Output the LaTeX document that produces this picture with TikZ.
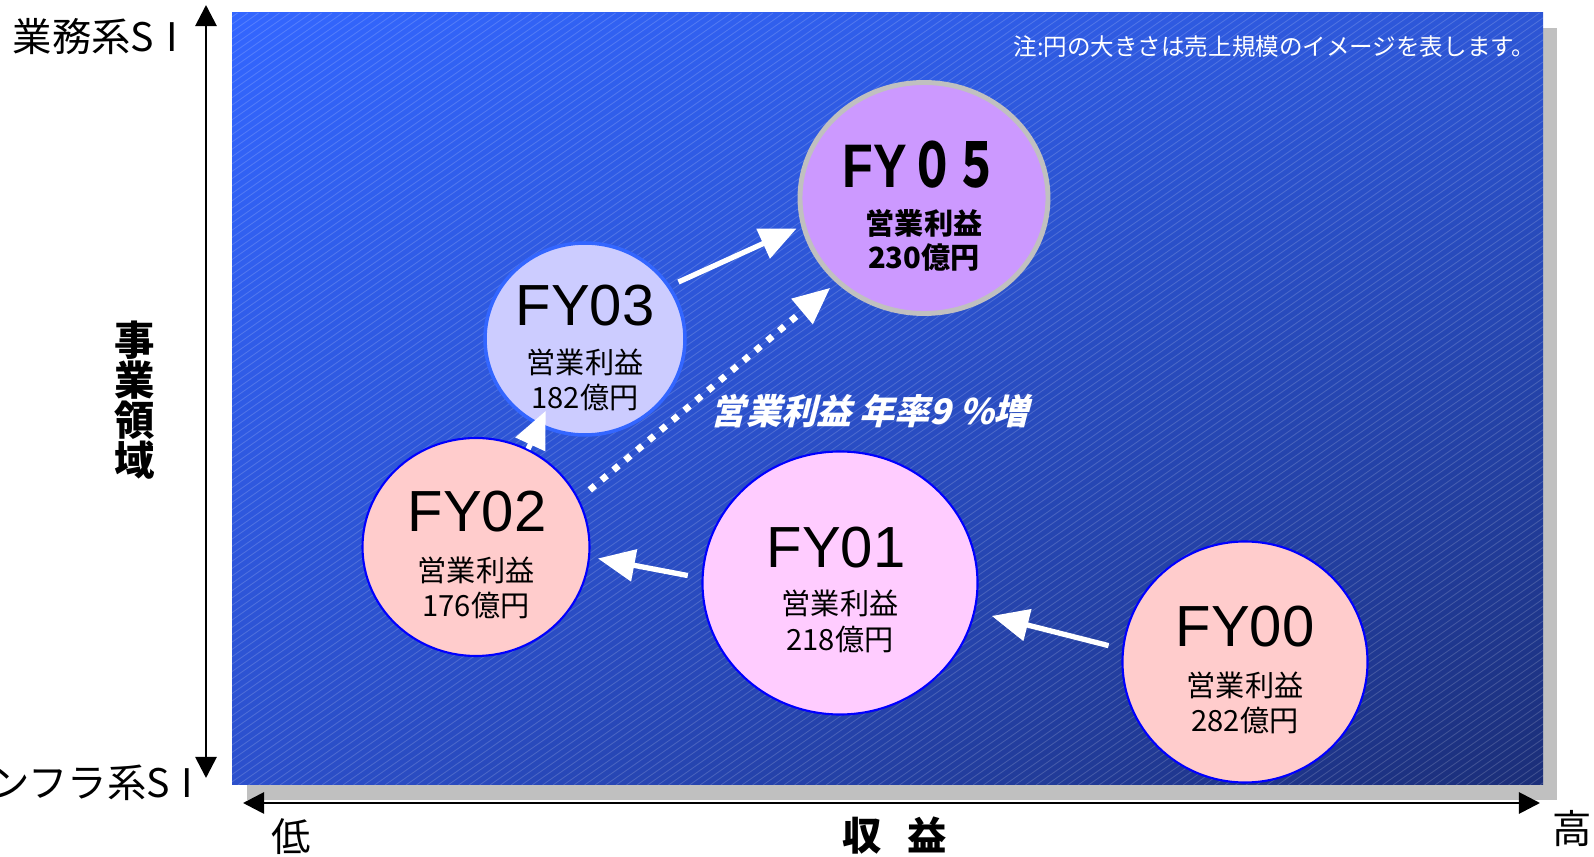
\documentclass[tikz,border=0pt]{standalone}
\usepackage{fontspec}
\usepackage{graphicx}
\setmainfont{Liberation Sans}
\newfontfamily\jp{Noto Sans CJK JP}
\newfontfamily\jpslant{Noto Sans CJK JP}[FakeSlant=0.25]
\usetikzlibrary{arrows.meta,shapes.geometric,shadings}

\definecolor{bgUL}{RGB}{51,102,255}
\definecolor{bgUR}{RGB}{45,86,214}
\definecolor{bgLL}{RGB}{44,80,204}
\definecolor{bgLR}{RGB}{27,46,120}
\definecolor{shadowgray}{RGB}{192,192,192}
\definecolor{pinkfill}{RGB}{255,204,204}
\definecolor{lilacfill}{RGB}{255,204,255}
\definecolor{periwinkle}{RGB}{204,204,255}
\definecolor{violetfill}{RGB}{204,153,255}
\definecolor{lightedge}{RGB}{51,102,255}

\tikzset{
  yearcirc/.style={ellipse, inner sep=0pt, draw=blue, line width=0.6pt},
  fyname/.style={font=\fontsize{16.5}{18}\selectfont},
  fyinfo/.style={font=\jp\fontsize{8.3}{10}\selectfont},
  axislabel/.style={font=\jp\fontsize{11.2}{13}\selectfont, inner sep=0pt},
}

\begin{document}
\begin{tikzpicture}[x=0.1mm, y=-0.1mm]
  \useasboundingbox (0,0) rectangle (1594,857);

  % chart area
  \fill[shadowgray] (247,28) rectangle (1557,800);
  \shade[upper left=bgUL, upper right=bgUR, lower left=bgLL, lower right=bgLR]
    (232,13) rectangle (1543,785);
  \begin{scope}
    \clip (232,13) rectangle (1543,785);
    \foreach \k in {0,...,232}
      \draw[white, draw opacity=0.16, line width=0.25pt] ({-875+10.5*\k},785) -- ++(1102,-772);
  \end{scope}

  % axes
  \coordinate (ytop) at (206,5);
  \coordinate (ybot) at (206,778);
  \coordinate (xlow) at (243,803);
  \coordinate (xhigh) at (1540,803);
  \draw[line width=0.8pt, {Triangle[length=6pt,width=6pt]}-{Triangle[length=6pt,width=6pt]}] (ybot) -- (ytop);
  \draw[line width=0.8pt, {Triangle[length=6pt,width=6pt]}-{Triangle[length=6pt,width=6pt]}] (xlow) -- (xhigh);

  \node[axislabel, anchor=west] (bizsi) at (12,37) {業務系S\hspace{0.3em}I};
  \node[axislabel, anchor=east] (infrasi) at (194,783) {インフラ系S\hspace{0.3em}I};
  \node[axislabel, font=\jp\bfseries\fontsize{11.5}{11.4}\selectfont, align=center] (domain) at (135,400) {事\\業\\領\\域};
  \node[axislabel] (low) at (291,837) {低};
  \node[axislabel] (high) at (1572,829) {高};
  \node[axislabel, font=\jp\bfseries\fontsize{11.2}{13}\selectfont] (revenue) at (895,836) {収\hspace{0.65em}益};

  \node[anchor=east, inner sep=0pt, text=white, font=\jp\fontsize{6.7}{8}\selectfont] (note) at (1536,47)
    {注:円の大きさは売上規模のイメージを表します。};

  % year circles
  \node[yearcirc, fill=pinkfill, minimum width=24.5mm, minimum height=24.1mm] (fy00) at (1245,662) {};
  \node[yearcirc, fill=lilacfill, minimum width=27.5mm, minimum height=26.3mm] (fy01) at (840,583) {};
  \node[yearcirc, fill=pinkfill, minimum width=22.7mm, minimum height=21.8mm] (fy02) at (476,547) {};
  \node[yearcirc, fill=periwinkle, draw=lightedge, line width=1pt, minimum width=20mm, minimum height=19.2mm] (fy03) at (585,339) {};
  \node[yearcirc, fill=violetfill, draw=shadowgray, line width=1.4pt, minimum width=24.8mm, minimum height=23.1mm] (fy05) at (924,198) {};

  \node[fyname] (fy00name) at (1245,627) {FY00};
  \node[fyinfo] (fy00label) at (1245,685) {営業利益};
  \node[fyinfo] (fy00value) at (1245,720) {282億円};

  \node[fyname] (fy01name) at (836,548) {FY01};
  \node[fyinfo] (fy01label) at (840,603) {営業利益};
  \node[fyinfo] (fy01value) at (840,639) {218億円};

  \node[fyname] (fy02name) at (477,512) {FY02};
  \node[fyinfo] (fy02label) at (476,570) {営業利益};
  \node[fyinfo] (fy02value) at (476,605) {176億円};

  \node[fyname] (fy03name) at (585,306) {FY03};
  \node[fyinfo] (fy03label) at (585,362) {営業利益};
  \node[fyinfo] (fy03value) at (585,397) {182億円};

  \node[font=\fontsize{17.5}{19}\selectfont\bfseries] (fy05name) at (921,165)
    {\scalebox{0.82}[1]{FY}\hspace{1pt}{\jp\scalebox{0.72}[1]{０５}}};
  \node[fyinfo, font=\jp\bfseries\fontsize{8.3}{10}\selectfont] (fy05label) at (924,223) {営業利益};
  \node[fyinfo, font=\jp\bfseries\fontsize{8.3}{10}\selectfont] (fy05value) at (924,257) {230億円};

  % growth arrows
  \begin{scope}[every edge/.style={draw=white, line width=1.5pt, -{Triangle[length=10.5pt,width=9pt]}}]
    \path (fy00.174.6) edge[shorten <=1.4mm, shorten >=1.7mm] (fy01.348.9);
    \path (fy01.178.7) edge[shorten <=1.4mm, shorten >=0.8mm] (fy02.355.8);
    \path (fy02.62.7) edge[shorten >=-1.67mm] (fy03.242.3);
    \path (fy03.32) edge[shorten <=0.9mm, shorten >=0.5mm] (fy05.193);
    \path (fy02.25.9) edge[line width=1.9pt, dash pattern=on 1.9pt off 2.5pt, shorten <=1.4mm, shorten >=0.77mm] (fy05.224.7);
  \end{scope}

  \node[text=white, font=\jpslant\bfseries\fontsize{10}{12}\selectfont] (growth) at (870,411) {営業利益 年率9 \%増};
\end{tikzpicture}
\end{document}
